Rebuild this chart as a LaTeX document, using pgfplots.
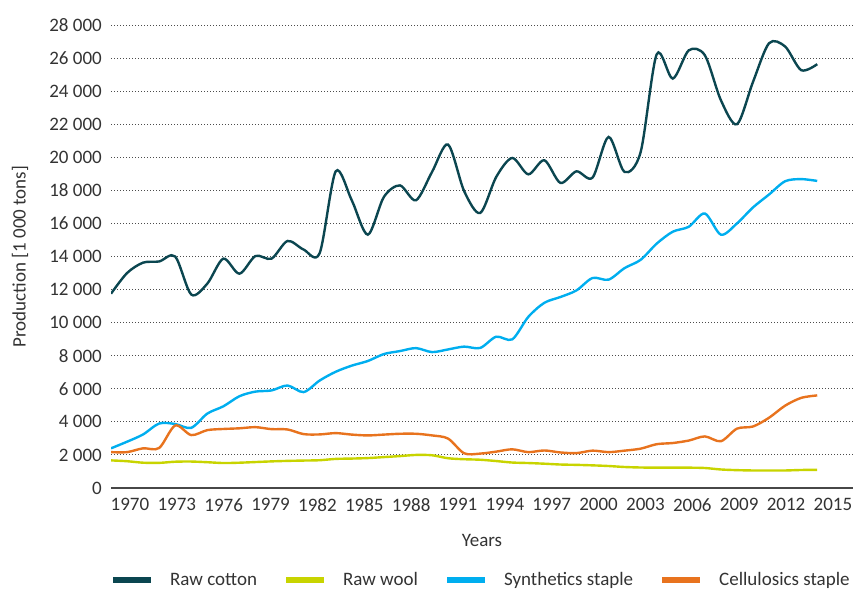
\documentclass[border=0pt]{standalone}
\usepackage{pgfplots}
\usepackage{pgfplotstable}
\pgfplotsset{compat=1.18}
\usepackage{fontspec}
\setmainfont{Carlito}
\definecolor{cotton}{HTML}{0B4650}
\definecolor{wool}{HTML}{C8D400}
\definecolor{synth}{HTML}{00AEEF}
\definecolor{cellu}{HTML}{E8731E}
\definecolor{txt}{HTML}{333333}
\pgfplotstableread{
year cotton wool synth cellu
1970 11750 1670 2400 2170
1971 13000 1620 2800 2170
1972 13630 1530 3240 2400
1973 13700 1520 3900 2420
1974 14000 1590 3870 3780
1975 11700 1600 3640 3200
1976 12360 1560 4500 3500
1977 13870 1510 4940 3570
1978 12960 1530 5550 3610
1979 14030 1570 5830 3680
1980 13870 1610 5900 3560
1981 14940 1640 6200 3540
1982 14420 1660 5800 3260
1983 14200 1680 6500 3240
1984 19150 1760 7030 3320
1985 17400 1780 7400 3230
1986 15320 1810 7680 3180
1987 17600 1870 8100 3230
1988 18300 1930 8280 3280
1989 17400 2000 8460 3280
1990 19110 1980 8220 3180
1991 20770 1800 8380 2990
1992 17960 1740 8550 2100
1993 16630 1710 8470 2080
1994 18810 1630 9150 2200
1995 19960 1540 8990 2340
1996 18970 1510 10350 2170
1997 19820 1470 11200 2270
1998 18450 1420 11550 2150
1999 19150 1400 11950 2110
2000 18770 1370 12700 2260
2001 21230 1330 12600 2170
2002 19110 1270 13300 2260
2003 20320 1240 13800 2380
2004 26230 1230 14780 2650
2005 24760 1230 15500 2720
2006 26470 1230 15800 2870
2007 26170 1210 16600 3120
2008 23450 1120 15320 2830
2009 22000 1080 16000 3590
2010 24560 1060 16970 3720
2011 26900 1060 17750 4250
2012 26700 1060 18550 4980
2013 25270 1090 18680 5450
2014 25630 1100 18570 5600
}\datatable
\begin{document}
\begin{tikzpicture}
\useasboundingbox (0pt,0pt) rectangle (866pt,590pt);
\begin{axis}[
  at={(111pt,102pt)}, anchor=south west,
  scale only axis, width=742pt, height=463pt,
  xmin=1970, xmax=2016.23, ymin=0, ymax=28000,
  enlargelimits=false,
  axis x line*=bottom, axis y line*=left,
  y axis line style={draw=none},
  x axis line style={-, draw=black!72, line width=1.5pt},
  major tick length=0pt,
  xtick={1971.18,1974.10,1977.02,1979.94,1982.86,1985.78,1988.70,1991.62,1994.54,1997.46,2000.38,2003.30,2006.22,2009.14,2012.06,2014.98},
  xticklabels={1970,1973,1976,1979,1982,1985,1988,1991,1994,1997,2000,2003,2006,2009,2012,2015},
  ytick={0,2000,...,28000},
  ymajorgrids,
  major grid style={draw=black!70, line width=1pt, dash pattern=on 1pt off 2pt},
  /pgf/number format/assume math mode=true,
  /pgf/number format/1000 sep={\ },
  scaled y ticks=false,
  tick label style={font=\fontsize{19}{23}\selectfont, text=txt},
  xticklabel style={inner sep=0pt, yshift=-10pt, anchor=north},
  yticklabel style={inner sep=0pt, xshift=-9pt, anchor=east},
  xlabel={Years}, ylabel={Production [1 000 tons]},
  every axis x label/.style={at={(axis description cs:0.5,-0.1123)}, anchor=center, font=\fontsize{19}{23}\selectfont, text=txt},
  every axis y label/.style={at={(axis description cs:-0.1226,0.5)}, rotate=90, anchor=center, font=\fontsize{19}{23}\selectfont, text=txt},
  legend columns=4,
  legend image code/.code={\draw[line width=6pt] (0pt,0pt) -- (38pt,0pt);},
  legend style={at={(axis description cs:0.4985,-0.1987)}, anchor=center, draw=none, fill=none,
    font=\fontsize{19}{23}\selectfont, text=txt,
    /tikz/every odd column/.append style={column sep=14pt},
    /tikz/every even column/.append style={column sep=24pt}},
  every axis plot/.append style={line width=2.4pt, smooth, tension=0.5},
]
\addplot[cotton] table[x=year, y=cotton] {\datatable};
\addlegendentry{Raw cotton}
\addplot[wool] table[x=year, y=wool] {\datatable};
\addlegendentry{Raw wool}
\addplot[synth] table[x=year, y=synth] {\datatable};
\addlegendentry{Synthetics staple}
\addplot[cellu] table[x=year, y=cellu] {\datatable};
\addlegendentry{Cellulosics staple}
\end{axis}
\end{tikzpicture}
\end{document}
